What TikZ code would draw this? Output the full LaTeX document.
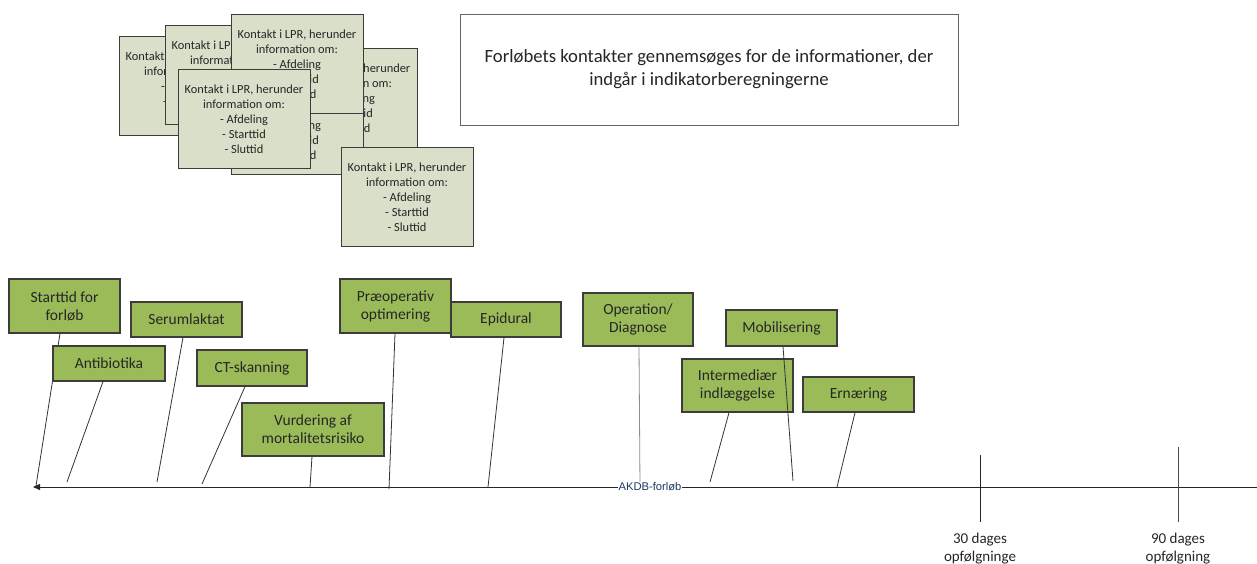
\documentclass[tikz,border=0pt]{standalone}
\usepackage{fontspec}
\setmainfont{Carlito}
\newfontfamily\arialfont{Liberation Sans}
\usetikzlibrary{arrows.meta}
\definecolor{boxgreen}{RGB}{155,187,89}
\definecolor{cardfill}{RGB}{218,223,202}
\definecolor{edgegray}{RGB}{60,60,60}
\definecolor{navy}{RGB}{31,56,100}
\tikzset{
  gbox/.style={draw=edgegray, line width=1.2pt, fill=boxgreen, inner sep=0pt, align=center,
    font=\fontsize{15.5}{18}\selectfont, text=black!85},
  card/.style={draw=edgegray, line width=1pt, fill=cardfill, inner sep=0pt, align=center,
    minimum width=132pt, minimum height=99pt, font=\fontsize{12.4}{15}\selectfont, text=black!85},
  conn/.style={draw=black!80, line width=0.8pt},
}
\newcommand{\cardtext}{Kontakt i LPR, herunder\\information om:\\- Afdeling\\- Starttid\\- Sluttid}
\begin{document}
\begin{tikzpicture}[x=1pt,y=-1pt]
\useasboundingbox[fill=white] (0,0) rectangle (1257,564);

% stacked cards
\node[card] (cA) at (185,86.5) {\cardtext};
\node[card] (cB) at (231,75.5) {\cardtext};
\node[card] (cE) at (351,98) {\cardtext};
\node[card] (cD) at (297,125) {\cardtext};
\node[card] (cC) at (297,64.5) {\cardtext};
\node[card] (cF) at (244,119) {\cardtext};
\node[card] (cG) at (407,197) {\cardtext};

% big note box
\node[draw=black!60, line width=0.9pt, minimum width=498pt, minimum height=111pt, inner sep=0pt,
  align=center, font=\fontsize{18.7}{23}\selectfont, text=black!85] (note) at (709,69.5)
  {Forløbets kontakter gennemsøges for de informationer, der\\indgår i indikatorberegningerne};

% timeline
\coordinate (tlL) at (33,487);
\coordinate (tlR) at (1257,487);
\draw[line width=0.9pt, black!85, -{Triangle[length=7pt,width=6pt]}] (tlR) -- (tlL);

% end points
\coordinate (e1) at (36,486);
\coordinate (e2) at (67,482);
\coordinate (e3) at (157,482);
\coordinate (e4) at (202,484);
\coordinate (e5) at (310,487);
\coordinate (e6) at (389,489);
\coordinate (e7) at (488,487);
\coordinate (e8) at (640,487);
\coordinate (e9) at (793,481);
\coordinate (e10) at (710,482);
\coordinate (e11) at (837,487);

\node[gbox, minimum width=111pt, minimum height=54pt] (s1) at (64.5,306) {Starttid for\\forløb};
\draw[conn] ([xshift=-4.5pt]s1.south) -- (e1);
\node[gbox, minimum width=112pt, minimum height=35pt] (s2) at (109,363.5) {Antibiotika};
\node[gbox, minimum width=111pt, minimum height=35pt] (s3) at (186.5,319.5) {Serumlaktat};
\node[gbox, minimum width=110pt, minimum height=36pt] (s4) at (252,368) {CT-skanning};
\node[gbox, minimum width=142pt, minimum height=53pt] (s5) at (313,429.5) {Vurdering af\\mortalitetsrisiko};
\node[gbox, minimum width=111pt, minimum height=54pt] (s6) at (395.5,306) {Præoperativ\\optimering};
\node[gbox, minimum width=110pt, minimum height=35pt] (s7) at (506,319.5) {Epidural};
\node[gbox, minimum width=110pt, minimum height=53pt] (s8) at (638,319.5) {Operation/\\Diagnose};
\node[gbox, minimum width=111pt, minimum height=36pt] (s9) at (781.5,328) {Mobilisering};
\node[gbox, minimum width=111pt, minimum height=53pt] (s10) at (737.5,385.5) {Intermediær\\indlæggelse};
\node[gbox, minimum width=111pt, minimum height=35pt] (s11) at (858.5,394.5) {Ernæring};

\draw[conn] ([xshift=-6pt]s2.south) -- (e2);
\draw[conn] ([xshift=-3.5pt]s3.south) -- (e3);
\draw[conn] ([xshift=-7pt]s4.south) -- (e4);
\draw[conn] ([xshift=-1pt]s5.south) -- (e5);
\draw[conn] ([xshift=-0.5pt]s6.south) -- (e6);
\draw[conn] ([xshift=-2pt]s7.south) -- (e7);
\draw[conn, draw=black!45] ([xshift=1pt]s8.south) -- (e8);
\draw[conn] ([xshift=1.5pt]s9.south) -- (e9);
\draw[conn] ([xshift=-8.5pt]s10.south) -- (e10);
\draw[conn] ([xshift=-3.5pt]s11.south) -- (e11);

% timeline label
\node[fill=white, inner sep=1pt, text=navy, font=\arialfont\fontsize{11.2}{13}\selectfont] (akdb) at (650,487) {AKDB-forløb};

% follow-up ticks
\coordinate (t30a) at (980,455);
\coordinate (t30b) at (980,522);
\coordinate (t90a) at (1178,447);
\coordinate (t90b) at (1178,522);
\draw[line width=0.9pt, black!85] (t30a) -- (t30b);
\draw[line width=0.9pt, black!70] (t90a) -- (t90b);
\node[align=center, inner sep=0pt, font=\fontsize{15}{18}\selectfont, text=black!85] (l30) at (980,549) {30 dages\\opfølgninge};
\node[align=center, inner sep=0pt, font=\fontsize{15}{18}\selectfont, text=black!85] (l90) at (1178,549) {90 dages\\opfølgning};
\end{tikzpicture}
\end{document}
